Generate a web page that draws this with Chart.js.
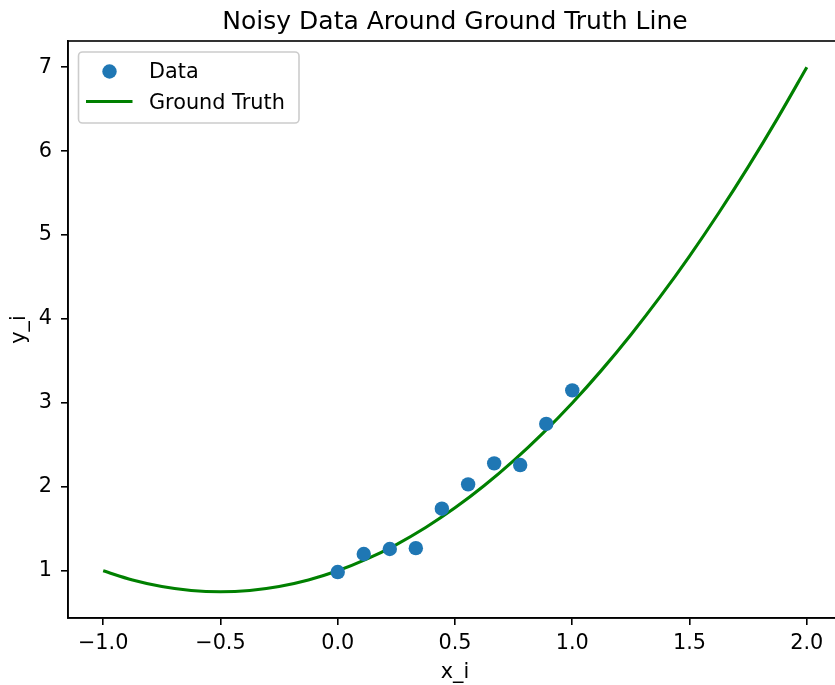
<!DOCTYPE html>
<html>
<head>
<meta charset="utf-8">
<script src="https://cdn.jsdelivr.net/npm/chart.js@4"></script>
<style>
html,body{margin:0;padding:0;background:#fff;overflow:hidden;}
#wrap{width:850px;height:685px;}
</style>
</head>
<body>
<div id="wrap"><canvas id="c" width="850" height="685"></canvas></div>
<script>
// Scatter data
const dataX = [0.000, 0.111, 0.222, 0.333, 0.444, 0.556, 0.667, 0.778, 0.889, 1.000];
const dataY = [0.985, 1.20, 1.26, 1.27, 1.74, 2.03, 2.28, 2.26, 2.75, 3.15];
// Ground truth curve
const truthX = [-1.0, -0.875, -0.75, -0.625, -0.5, -0.375, -0.25, -0.125, 0.0, 0.125, 0.25, 0.375, 0.5, 0.625, 0.75, 0.875, 1.0, 1.125, 1.25, 1.375, 1.5, 1.625, 1.75, 1.875, 2.0];
const truthY = [1.000, 0.891, 0.813, 0.766, 0.750, 0.766, 0.813, 0.891, 1.000, 1.141, 1.313, 1.516, 1.750, 2.016, 2.313, 2.641, 3.000, 3.391, 3.813, 4.266, 4.750, 5.266, 5.813, 6.391, 7.000];
const xTicks = [-1.0, -0.5, 0.0, 0.5, 1.0, 1.5, 2.0];
const yTicks = [1, 2, 3, 4, 5, 6, 7];
const titleText = "Noisy Data Around Ground Truth Line";
const xLabel = "x_i";
const yLabel = "y_i";
const legendLabels = ["Data", "Ground Truth"];

const FONT = "'DejaVu Sans', sans-serif";
const BLUE = "#1f77b4";
const GREEN = "#008000";
const FS = 20.8;

const overlay = {
  id: 'overlay',
  afterDraw(chart) {
    const ctx = chart.ctx;
    const a = chart.chartArea;
    ctx.save();
    // frame (top & right spines)
    ctx.strokeStyle = '#000';
    ctx.lineWidth = 1.6;
    ctx.strokeRect(a.left, a.top, a.right - a.left, a.bottom - a.top);
    const cx = (a.left + a.right) / 2;
    // title
    ctx.fillStyle = '#000';
    ctx.font = "25px " + FONT;
    ctx.textAlign = 'center';
    ctx.textBaseline = 'alphabetic';
    ctx.fillText(titleText, cx, 29);
    // axis labels
    ctx.font = FS + "px " + FONT;
    ctx.fillText(xLabel, cx, 678);
    ctx.save();
    ctx.translate(20, (a.top + a.bottom) / 2);
    ctx.rotate(-Math.PI / 2);
    ctx.textBaseline = 'middle';
    ctx.fillText(yLabel, 0, 0);
    ctx.restore();
    // legend
    const lx = 78.5, ly = 52, lw = 220.5, lh = 71, r = 4;
    ctx.beginPath();
    ctx.moveTo(lx + r, ly);
    ctx.arcTo(lx + lw, ly, lx + lw, ly + lh, r);
    ctx.arcTo(lx + lw, ly + lh, lx, ly + lh, r);
    ctx.arcTo(lx, ly + lh, lx, ly, r);
    ctx.arcTo(lx, ly, lx + lw, ly, r);
    ctx.closePath();
    ctx.fillStyle = 'rgba(255,255,255,0.8)';
    ctx.fill();
    ctx.strokeStyle = '#cccccc';
    ctx.lineWidth = 1.6;
    ctx.stroke();
    ctx.beginPath();
    ctx.arc(109.5, 71.5, 7.2, 0, Math.PI * 2);
    ctx.fillStyle = BLUE;
    ctx.fill();
    ctx.beginPath();
    ctx.moveTo(86, 101.5);
    ctx.lineTo(132.5, 101.5);
    ctx.strokeStyle = GREEN;
    ctx.lineWidth = 3.1;
    ctx.stroke();
    ctx.fillStyle = '#000';
    ctx.font = FS + "px " + FONT;
    ctx.textAlign = 'left';
    ctx.textBaseline = 'alphabetic';
    ctx.fillText(legendLabels[0], 149, 78);
    ctx.fillText(legendLabels[1], 149, 109);
    ctx.restore();
  }
};

const fmt = v => v.toFixed(1).replace('-', '\u2212');

new Chart(document.getElementById('c'), {
  type: 'scatter',
  data: {
    datasets: [
      {
        label: legendLabels[0],
        data: dataX.map((x, i) => ({x: x, y: dataY[i]})),
        backgroundColor: BLUE,
        borderWidth: 0,
        pointRadius: 7.2,
        pointHoverRadius: 7.2,
        order: 1
      },
      {
        label: legendLabels[1],
        type: 'line',
        data: truthX.map((x, i) => ({x: x, y: truthY[i]})),
        borderColor: GREEN,
        borderWidth: 3.1,
        pointRadius: 0,
        fill: false,
        cubicInterpolationMode: 'monotone',
        order: 2
      }
    ]
  },
  options: {
    responsive: false,
    animation: false,
    events: [],
    layout: {padding: {top: 41, right: 8, left: 0, bottom: 0}},
    plugins: {legend: {display: false}, title: {display: false}, tooltip: {enabled: false}},
    scales: {
      x: {
        type: 'linear',
        min: -1.15,
        max: 2.15,
        afterBuildTicks: s => { s.ticks = xTicks.map(v => ({value: v})); },
        afterFit: s => { s.height = 67; },
        ticks: {
          callback: v => fmt(v),
          color: '#000',
          font: {family: FONT, size: FS},
          padding: 6,
          maxRotation: 0,
          autoSkip: false
        },
        grid: {drawOnChartArea: false, tickLength: 7, color: '#000', lineWidth: 1.6},
        border: {display: true, color: '#000', width: 1.6}
      },
      y: {
        type: 'linear',
        min: 0.4375,
        max: 7.3125,
        afterBuildTicks: s => { s.ticks = yTicks.map(v => ({value: v})); },
        afterFit: s => { s.width = 68; },
        ticks: {
          callback: v => String(v),
          color: '#000',
          font: {family: FONT, size: FS},
          padding: 9,
          autoSkip: false
        },
        grid: {drawOnChartArea: false, tickLength: 7, color: '#000', lineWidth: 1.6},
        border: {display: true, color: '#000', width: 1.6}
      }
    }
  },
  plugins: [overlay]
});
</script>
</body>
</html>
